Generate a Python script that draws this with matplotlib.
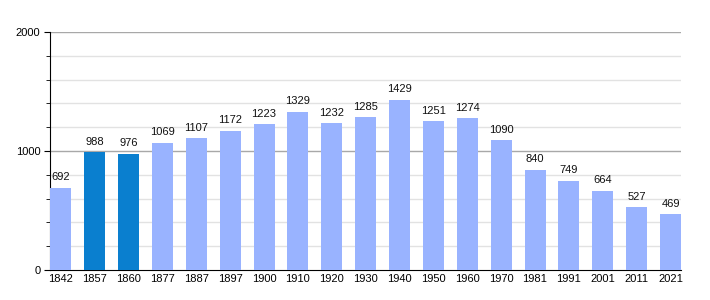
import matplotlib.pyplot as plt
from matplotlib.ticker import MultipleLocator

years = ["1842", "1857", "1860", "1877", "1887", "1897", "1900", "1910", "1920",
         "1930", "1940", "1950", "1960", "1970", "1981", "1991", "2001", "2011", "2021"]
population = [692, 988, 976, 1069, 1107, 1172, 1223, 1329, 1232,
              1285, 1429, 1251, 1274, 1090, 840, 749, 664, 527, 469]
highlight = ["1857", "1860"]

plt.rcParams['font.family'] = ['Liberation Sans', 'DejaVu Sans']

fig = plt.figure(figsize=(7.1, 3.0), dpi=100)
ax = fig.add_axes([50 / 710, 30 / 300, 631 / 710, 238 / 300])

colors = ['#0a7fcf' if y in highlight else '#99b3ff' for y in years]
x = list(range(len(years)))
ax.bar(x, population, width=0.62, color=colors, zorder=3)

for xi, v in zip(x, population):
    ax.annotate(str(v), (xi, v), xytext=(0, 4), textcoords='offset points',
                ha='center', va='bottom', fontsize=8, color='#111111')

ax.set_xlim(-0.32, len(years) - 0.69)
ax.set_ylim(0, 2000)
ax.set_xticks(x)
ax.set_xticklabels(years, fontsize=8)
ax.tick_params(axis='x', length=0, pad=3)
ax.yaxis.set_major_locator(MultipleLocator(1000))
ax.yaxis.set_minor_locator(MultipleLocator(200))
ax.tick_params(axis='y', which='major', length=4, labelsize=8, pad=3)
ax.tick_params(axis='y', which='minor', length=3)

# grid: light every 200, darker at 1000
for g in range(200, 2001, 200):
    c = '#a8a8a8' if g % 1000 == 0 else '#e2e2e2'
    ax.axhline(g, color=c, lw=1, zorder=1)

for s in ['top', 'right']:
    ax.spines[s].set_visible(False)
ax.spines['left'].set_color('black')
ax.spines['bottom'].set_color('black')

fig.savefig('out.png', dpi=100)
